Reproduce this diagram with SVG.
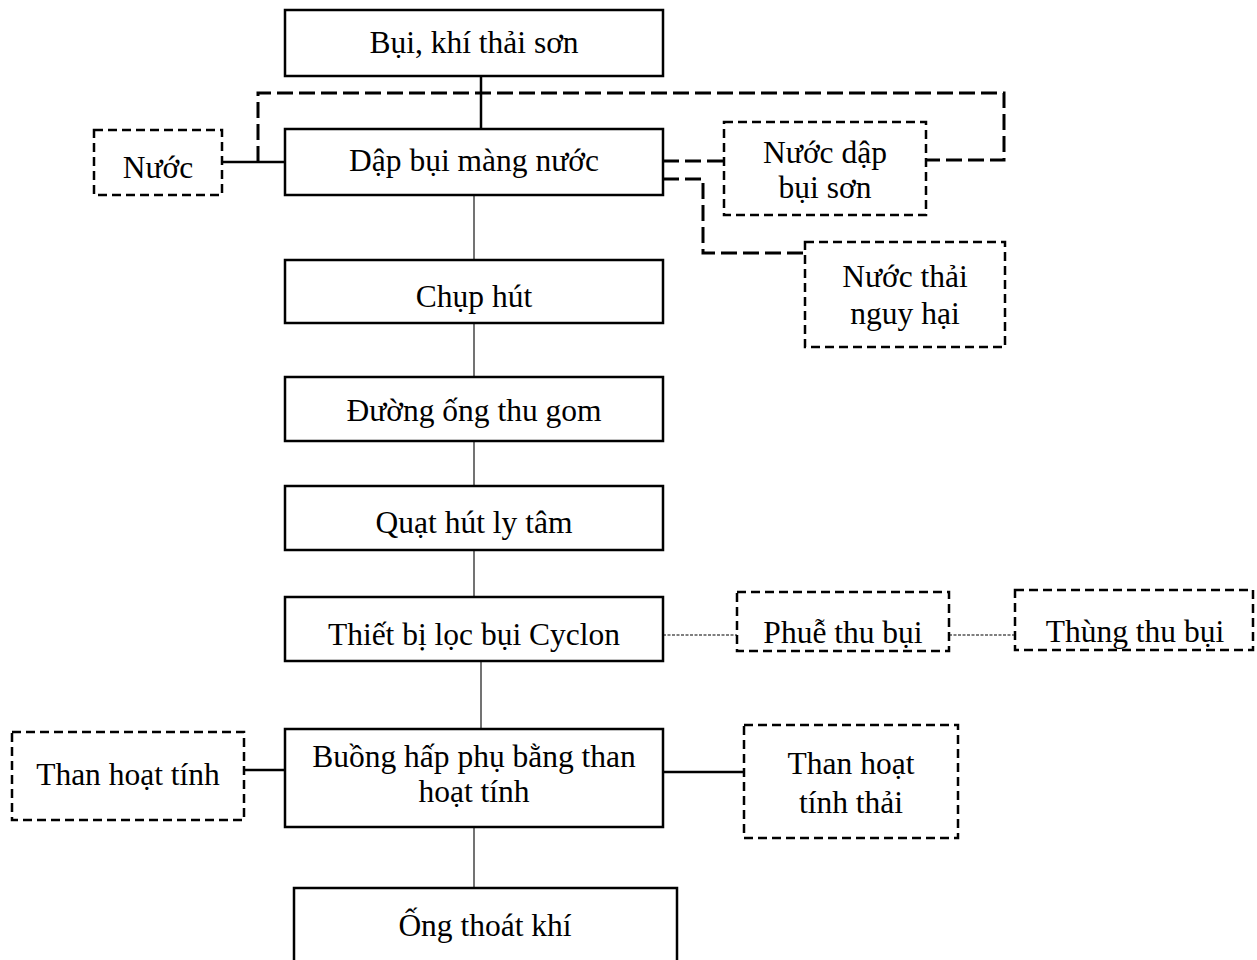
<svg xmlns="http://www.w3.org/2000/svg" width="1257" height="960" viewBox="0 0 1257 960">
<style>
.box{fill:#fff;stroke:#000;stroke-width:2.5}
.dbox{fill:#fff;stroke:#000;stroke-width:2.5;stroke-dasharray:9 5}
.t{font-family:"Liberation Serif","Times New Roman",serif;font-size:31.5px;fill:#000;text-anchor:middle}
.v{stroke:#444;stroke-width:1.5;fill:none}
.s{stroke:#000;stroke-width:2.5;fill:none}
.ld{stroke:#000;stroke-width:3;fill:none;stroke-dasharray:16 6}
.dot{stroke:#000;stroke-width:1.2;fill:none;stroke-dasharray:3 1.5}
</style>
<g id="connectors">
<line class="s" x1="481" y1="76" x2="481" y2="129"/>
<path class="ld" d="M258 162 V93 H1004 V160 H926"/>
<line class="s" x1="222" y1="162" x2="285" y2="162"/>
<line class="ld" x1="663" y1="161" x2="724" y2="161"/>
<path class="ld" d="M663 179 H703 V253 H805"/>
<line class="v" x1="474" y1="195" x2="474" y2="260"/>
<line class="v" x1="474" y1="323" x2="474" y2="377"/>
<line class="v" x1="474" y1="441" x2="474" y2="486"/>
<line class="v" x1="474" y1="550" x2="474" y2="597"/>
<line class="dot" x1="663" y1="635" x2="737" y2="635"/>
<line class="dot" x1="949" y1="635" x2="1015" y2="635"/>
<line class="v" x1="481" y1="661" x2="481" y2="729"/>
<line class="s" x1="244" y1="770" x2="285" y2="770"/>
<line class="s" x1="663" y1="772" x2="744" y2="772"/>
<line class="v" x1="474" y1="827" x2="474" y2="888"/>
</g>
<g id="n1"><rect class="box" x="285" y="10" width="378" height="66"/><text class="t" x="474" y="53">Bụi, khí thải sơn</text></g>
<g id="n2"><rect class="box" x="285" y="129" width="378" height="66"/><text class="t" x="474" y="171">Dập bụi màng nước</text></g>
<g id="nuoc"><rect class="dbox" x="94" y="130" width="128" height="65"/><text class="t" x="158" y="178">Nước</text></g>
<g id="nuocdap"><rect class="dbox" x="724" y="122" width="202" height="93"/><text class="t" x="825" y="163">Nước dập</text><text class="t" x="825" y="198">bụi sơn</text></g>
<g id="nuocthai"><rect class="dbox" x="805" y="242" width="200" height="105"/><text class="t" x="905" y="287">Nước thải</text><text class="t" x="905" y="324">nguy hại</text></g>
<g id="n3"><rect class="box" x="285" y="260" width="378" height="63"/><text class="t" x="474" y="307">Chụp hút</text></g>
<g id="n4"><rect class="box" x="285" y="377" width="378" height="64"/><text class="t" x="474" y="421">Đường ống thu gom</text></g>
<g id="n5"><rect class="box" x="285" y="486" width="378" height="64"/><text class="t" x="474" y="533">Quạt hút ly tâm</text></g>
<g id="n6"><rect class="box" x="285" y="597" width="378" height="64"/><text class="t" x="474" y="645">Thiết bị lọc bụi Cyclon</text></g>
<g id="phue"><rect class="dbox" x="737" y="592" width="212" height="59"/><text class="t" x="843" y="643">Phuễ thu bụi</text></g>
<g id="thung"><rect class="dbox" x="1015" y="590" width="238" height="60"/><text class="t" x="1135" y="642">Thùng thu bụi</text></g>
<g id="n7"><rect class="box" x="285" y="729" width="378" height="98"/><text class="t" x="474" y="767">Buồng hấp phụ bằng than</text><text class="t" x="474" y="802">hoạt tính</text></g>
<g id="than"><rect class="dbox" x="12" y="732" width="232" height="88"/><text class="t" x="128" y="785">Than hoạt tính</text></g>
<g id="thanthai"><rect class="dbox" x="744" y="725" width="214" height="113"/><text class="t" x="851" y="774">Than hoạt</text><text class="t" x="851" y="813">tính thải</text></g>
<g id="n8"><rect class="box" x="294" y="888" width="383" height="80"/><text class="t" x="485" y="936">Ống thoát khí</text></g>
</svg>
